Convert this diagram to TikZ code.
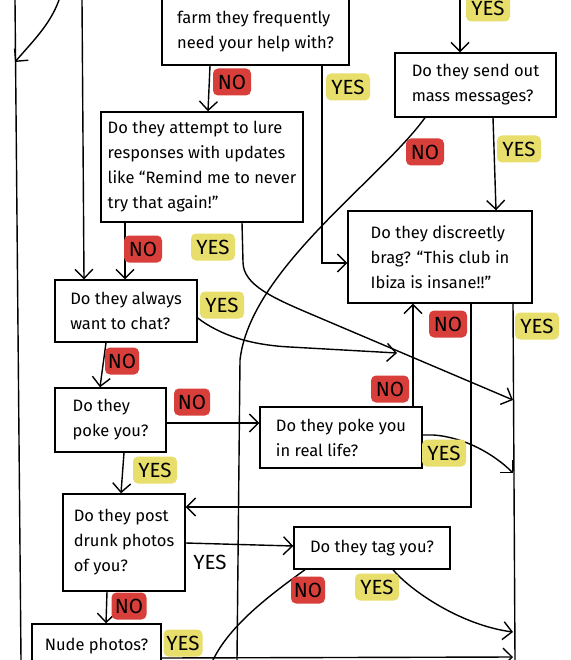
\documentclass[tikz,border=0pt]{standalone}
\usepackage{fontspec}
\setmainfont{Fira Sans}
\usetikzlibrary{arrows.meta}
\definecolor{nored}{RGB}{216,62,58}
\definecolor{yesyel}{RGB}{232,222,108}
\begin{document}
\begin{tikzpicture}[x=1pt,y=-1pt,
  line width=1.4pt,
  qbox/.style={draw, line width=1.4pt, align=left, inner sep=0pt, font=\fontsize{16.5}{25}\selectfont},
  txt/.style={align=left, inner sep=0pt, font=\fontsize{16.5}{25}\selectfont},
  arr/.style={-{Straight Barb[length=9pt,width=18pt,line width=1.4pt]}},
  lab/.style={rounded corners=5pt, inner sep=0pt, minimum height=27pt, font=\fontsize{20.5}{20.5}\selectfont},
  nolab/.style={lab, fill=nored, minimum width=38pt},
  yeslab/.style={lab, fill=yesyel, minimum width=44pt},
]
\useasboundingbox (0,0) rectangle (570,660);
\clip (0,0) rectangle (570,660);
\fill[white] (0,0) rectangle (570,660);

% boxes
\node[qbox, minimum width=187pt, minimum height=125pt] (farm) at (255.5,2.5) {};
\node[txt] (farmtxt) at (255.5,31.5) {farm they frequently\\need your help with?};
\node[qbox, minimum width=161pt, minimum height=64pt] (mass) at (475.5,85) {Do they send out\\mass messages?};
\node[qbox, minimum width=202pt, minimum height=110pt] (lure) at (202,167) {Do they attempt to lure\\responses with updates\\like “Remind me to never\\try that again!”};
\node[qbox, minimum width=184pt, minimum height=92pt] (brag) at (440,257) {Do they discreetly\\brag? “This club in\\Ibiza is insane!!”};
\node[qbox, minimum width=142pt, minimum height=62pt] (chat) at (126,311) {Do they always\\want to chat?};
\node[qbox, minimum width=111pt, minimum height=64pt] (poke) at (110.5,420) {Do they\\poke you?};
\node[qbox, minimum width=162pt, minimum height=61pt] (real) at (341,437.5) {Do they poke you\\in real life?};
\node[qbox, minimum width=122pt, minimum height=97pt] (drunk) at (124,542.5) {Do they post\\drunk photos\\of you?};
\node[qbox, minimum width=156pt, minimum height=42pt] (tag) at (372,548) {Do they tag you?};
\node[qbox, minimum width=129pt, minimum height=44pt] (nude) at (96.5,646) {Nude photos?};

% free ends
\coordinate (eTL) at (15,0);
\coordinate (eBL) at (21,660);
\coordinate (cTop) at (59,0);
\coordinate (cHit) at (15,62);
\coordinate (vTop) at (82,0);
\coordinate (yTop) at (460,0);
\coordinate (mnEnd) at (237,660);
\coordinate (rL) at (513,400);
\coordinate (cyEnd) at (397,353);
\coordinate (ryEnd) at (513,473);
\coordinate (tnEnd) at (213,660);
\coordinate (tyEnd) at (513,632);
\coordinate (nyEnd) at (513,657);
\coordinate (rBot) at (515,660);

% connectors
\draw (eTL) -- (eBL);
\draw[arr] (cTop) .. controls (50,25) and (32,42) .. (cHit);
\draw[arr] (vTop) -- (84,0 |- chat.north);
\draw[arr] (210,0 |- farm.south) -- (208,0 |- lure.north);
\draw[arr] (322,0 |- farm.south) -- (322,263) -- (brag.west |- 0,263);
\draw[arr] (yTop) -- (460,0 |- mass.north);
\draw (425,0 |- mass.south) .. controls (380,180) and (250,270) .. (240,360) -- (mnEnd);
\draw[arr] (493,0 |- mass.south) -- (496,0 |- brag.north);
\draw[arr] (125,0 |- lure.south) -- (125,0 |- chat.north);
\draw[arr] (242,0 |- lure.south) -- (243,262) .. controls (243,285) and (273,298) .. (313,315) -- (rL);
\draw[arr] (chat.east |- 0,318) .. controls (220,335) and (250,345) .. (290,347) -- (cyEnd);
\draw (513,0 |- brag.south) -- (rBot);
\draw[arr] (471,0 |- brag.south) -- (471,507) -- (drunk.east |- 0,507);
\draw[arr] (413,0 |- real.north) -- (413,0 |- brag.south);
\draw[arr] (real.east |- 0,435) -- (433,435) .. controls (465,437) and (495,455) .. (ryEnd);
\draw[arr] (poke.east |- 0,423) -- (real.west |- 0,423);
\draw[arr] (106,0 |- chat.south) -- (100,0 |- poke.north);
\draw[arr] (124,0 |- poke.south) -- (121,0 |- drunk.north);
\draw[arr] (drunk.east |- 0,543) -- (tag.west |- 0,546);
\draw[arr] (107,0 |- drunk.south) -- (106,0 |- nude.north);
\draw (305,0 |- tag.south) .. controls (270,595) and (230,625) .. (tnEnd);
\draw[arr] (393,0 |- tag.south) .. controls (410,590) and (460,625) .. (tyEnd);
\draw[arr] (nude.east |- 0,658) -- (nyEnd);

% labels
\node[nolab] (n1) at (232,82) {NO};
\node[yeslab] (y1) at (348,87) {YES};
\node[yeslab] (y0) at (488,8) {YES};
\node[nolab] (n2) at (425,152) {NO};
\node[yeslab] (y2) at (519,149) {YES};
\node[nolab] (n3) at (143,249) {NO};
\node[yeslab] (y3) at (213,247) {YES};
\node[yeslab] (y4) at (222,305) {YES};
\node[nolab, minimum width=34pt] (n4) at (122,361) {NO};
\node[nolab, minimum width=36pt] (n5) at (192,402) {NO};
\node[nolab] (n6) at (448,324) {NO};
\node[yeslab] (y6) at (537,326) {YES};
\node[nolab] (n7) at (390,389) {NO};
\node[yeslab] (y7) at (444,453) {YES};
\node[yeslab] (y5) at (155,470) {YES};
\node[lab] (y8) at (210,562) {YES};
\node[nolab, minimum width=35pt] (n8) at (129,606) {NO};
\node[yeslab, minimum width=39pt] (y9) at (183,643) {YES};
\node[nolab, minimum width=34pt] (n9) at (308,590) {NO};
\node[yeslab] (y10) at (377,587) {YES};
\end{tikzpicture}
\end{document}
